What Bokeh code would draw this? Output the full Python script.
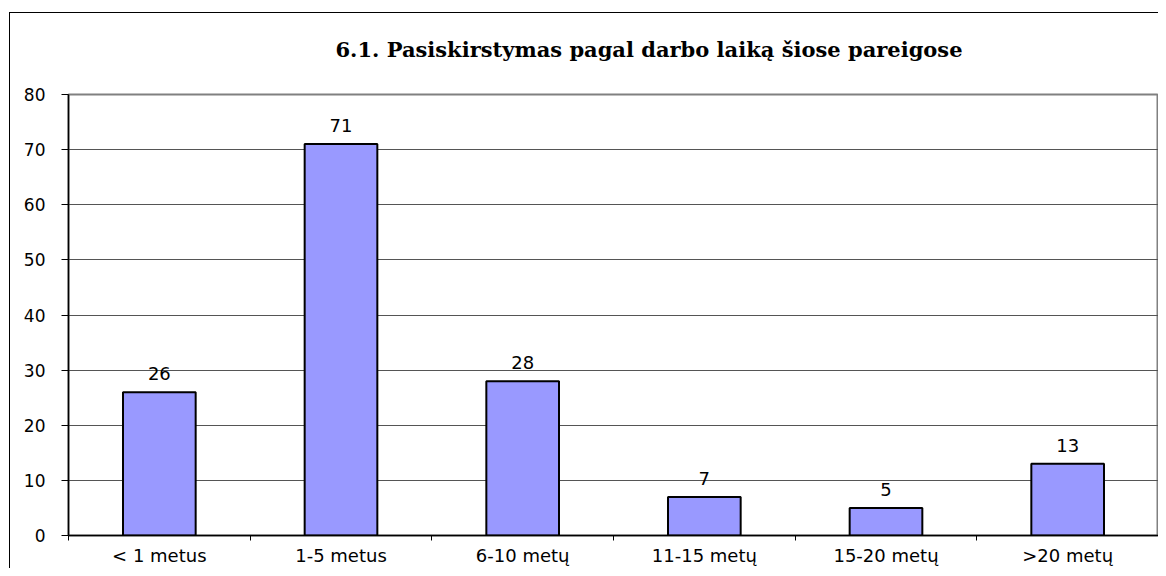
from bokeh.plotting import figure
from bokeh.models import ColumnDataSource, FixedTicker, LabelSet, Title, Range1d
from bokeh.core.properties import value
from bokeh.embed import file_html
from bokeh.resources import INLINE

categories = ["< 1 metus", "1-5 metus", "6-10 metų", "11-15 metų", "15-20 metų", ">20 metų"]
counts = [26, 71, 28, 7, 5, 13]
y_ticks = [0, 10, 20, 30, 40, 50, 60, 70, 80]
title_text = "6.1. Pasiskirstymas pagal darbo laiką šiose pareigose"

xs = list(range(1, len(categories) + 1))
source = ColumnDataSource(dict(x=xs, y=counts, lab=[str(c) for c in counts]))

x_lo, x_hi = 0.5, len(categories) + 0.5
y_lo, y_hi = y_ticks[0], y_ticks[-1]

p = figure(width=1158, height=568, output_backend="svg", toolbar_location=None,
           x_range=Range1d(x_lo, x_hi), y_range=Range1d(y_lo, y_hi),
           min_border_left=68, min_border_right=0, min_border_top=94, min_border_bottom=33)
p.styles = {
    "background": ("linear-gradient(#000000, #000000) 9px 12px / 1px 100% no-repeat, "
                   "linear-gradient(#000000, #000000) 9px 12px / 100% 1px no-repeat, #ffffff"),
}

t = Title(text=title_text, align="left", offset=267, standoff=66,
          text_font="DejaVu Serif", text_font_size="21px", text_font_style="bold",
          text_color="#000000")
p.add_layout(t, "above")

p.vbar(x="x", top="y", width=0.4, source=source, fill_color="#9999FF",
       line_color="#000000", line_width=2)

labels = LabelSet(x="x", y="y", text="lab", source=source, y_offset=12,
                  text_align="center", text_baseline="alphabetic",
                  text_font=value("DejaVu Sans"), text_font_size="18px", text_color="#000000")
p.add_layout(labels)

p.outline_line_color = "#808080"
p.outline_line_width = 2
p.background_fill_color = "#ffffff"
p.border_fill_color = None

p.xgrid.grid_line_color = None
p.ygrid.grid_line_color = "#555555"
p.ygrid.grid_line_width = 1
p.ygrid.ticker = FixedTicker(ticks=y_ticks[1:-1])

xa = p.xaxis[0]
xa.ticker = FixedTicker(ticks=xs, minor_ticks=[i + 0.5 for i in range(len(categories) + 1)])
xa.major_label_overrides = {i + 1: c for i, c in enumerate(categories)}
xa.major_tick_line_color = None
xa.major_tick_out = 0
xa.major_tick_in = 0
xa.minor_tick_line_color = "#000000"
xa.minor_tick_out = 5
xa.minor_tick_in = 0
xa.axis_line_color = "#000000"
xa.axis_line_width = 1.5
xa.major_label_standoff = 4
xa.major_label_text_font = "DejaVu Sans"
xa.major_label_text_font_size = "18px"
xa.major_label_text_color = "#000000"

ya = p.yaxis[0]
ya.ticker = FixedTicker(ticks=y_ticks)
ya.minor_tick_line_color = None
ya.major_tick_out = 7
ya.major_tick_in = 0
ya.major_tick_line_color = "#000000"
ya.axis_line_color = "#000000"
ya.axis_line_width = 1.5
ya.major_label_standoff = 16
ya.major_label_text_font = "DejaVu Sans"
ya.major_label_text_font_size = "17px"
ya.major_label_text_color = "#000000"

open("out.html", "w").write(file_html(p, INLINE))
